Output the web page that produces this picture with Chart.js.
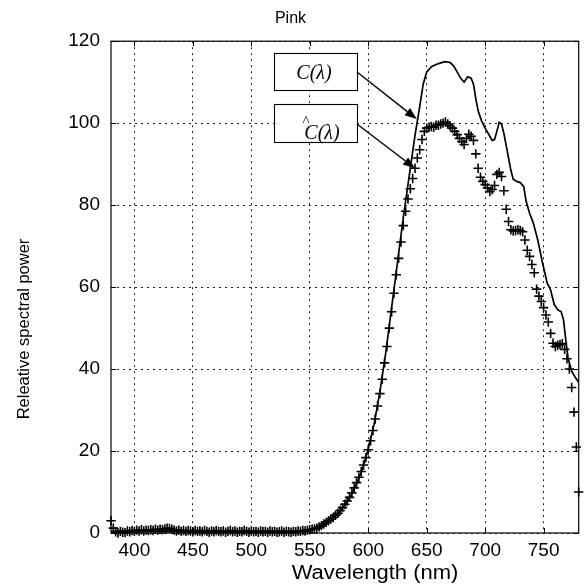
<!DOCTYPE html>
<html><head><meta charset="utf-8">
<script src="https://cdn.jsdelivr.net/npm/chart.js@4"></script>
<style>html,body{margin:0;padding:0;background:#fff}#wrap{width:585px;height:587px}</style>
</head><body><div id="wrap"><canvas id="c" width="585" height="587"></canvas></div>
<script>
const chartTitle = 'Pink';
const xAxisTitle = 'Wavelength (nm)';
const yAxisTitle = 'Releative spectral power';
const xTickValues = [400, 450, 500, 550, 600, 650, 700, 750];
const yTickValues = [0, 20, 40, 60, 80, 100, 120];
const legendLabels = ['C(\u03bb)', 'C(\u03bb)'];
const arrowTargets = [[641.5, 101], [640, 89]];

// measured spectrum C(lambda)
const waveC = [380,400,420,440,460,480,500,520,540,550,555,560,565,570,575,580,585,590,595,600,605,610,615,620,625,630,635,640,644,647,650,654,658,662,666,670,673,676,679,682,685,688,690,692,694,697,700,703,706,708,710,712,714,716,718,720,722,724,727,730,733,735,738,741,745,749,753,756,759,762,765,767,769,771,774,777,780];
const powerC = [0.4,0.4,0.5,0.4,0.3,0.3,0.3,0.3,0.4,0.6,1.0,1.8,2.7,3.8,5.0,6.8,9.0,12.0,15.5,20.5,26.5,34.5,44,55,66,77,87,97,104,109.5,112.5,113.8,114.3,114.7,115,114.8,114,112.5,111,110,111.3,111,109.5,106,103,100.5,98.8,97.3,95.8,96,98,100.2,99.8,97.5,94.5,91.5,88.5,86.3,85.8,85.5,84.5,81,78,75.8,71.5,66,61,59.3,55.8,54.5,54,52,47,42.5,39.5,38,36.8];

// estimated spectrum C^(lambda)
const waveHat = [380,382,384,386,388,390,392,394,396,398,400,402,404,406,408,410,412,414,416,418,420,422,424,426,428,430,432,434,436,438,440,442,444,446,448,450,452,454,456,458,460,462,464,466,468,470,472,474,476,478,480,482,484,486,488,490,492,494,496,498,500,502,504,506,508,510,512,514,516,518,520,522,524,526,528,530,532,534,536,538,540,542,544,546,548,550,552,554,556,558,560,562,564,566,568,570,572,574,576,578,580,582,584,586,588,590,592,594,596,598,600,602,604,606,608,610,612,614,616,618,620,622,624,626,628,630,632,634,636,638,640,642,644,646,648,650,652,654,656,658,660,662,664,666,668,670,672,674,676,678,680,682,684,686,688,690,692,694,696,698,700,702,704,706,708,710,712,714,716,718,720,722,724,726,728,730,732,734,736,738,740,742,744,746,748,750,752,754,756,758,760,762,764,766,768,770,772,774,776,778,780];
const powerHat = [3.0,1.2,0.3,0.0,0.4,0.2,0.1,0.5,0.3,0.6,0.4,0.7,0.5,0.8,0.5,0.7,0.6,0.8,0.6,0.9,0.7,0.9,0.8,1.0,1.2,1.1,0.9,0.7,0.5,0.7,0.4,0.6,0.4,0.6,0.5,0.3,0.6,0.4,0.5,0.3,0.6,0.4,0.2,0.5,0.3,0.6,0.4,0.3,0.5,0.2,0.4,0.6,0.3,0.5,0.2,0.4,0.3,0.6,0.4,0.2,0.5,0.3,0.4,0.2,0.5,0.3,0.4,0.2,0.5,0.3,0.4,0.2,0.3,0.5,0.2,0.4,0.3,0.2,0.4,0.3,0.5,0.4,0.6,0.5,0.7,0.8,0.9,1.0,1.2,1.5,1.8,2.2,2.6,3.0,3.4,3.8,4.3,4.8,5.5,6.2,7.0,7.8,8.7,9.8,11.0,12.3,13.6,15.0,16.6,18.4,20.3,22.5,25.0,27.8,31.0,34.0,37.5,41.5,45.5,50.0,54.0,58.5,63.0,67.0,71.0,75.0,78.5,81.5,84.0,86.5,89.0,91.5,93.5,96.0,98.0,98.8,99.0,99.2,99.0,99.5,99.5,99.8,100.0,100.3,99.8,99.3,98.8,98.0,97.2,96.3,95.5,94.8,96.3,97.3,96.8,95.8,92.5,89.0,86.8,85.8,85.0,84.2,83.3,83.8,84.8,87.5,88.0,87.0,83.5,79.0,76.0,74.0,73.7,73.8,74.0,73.8,73.5,71.5,69.0,67.5,65.5,63.5,59.5,57.8,56.5,55.0,53.2,51.5,48.7,46.3,45.5,45.8,46.0,46.2,44.8,42.5,40.0,35.5,29.5,21.0,10.0];

const decor = {
  id: 'decor',
  afterDraw(chart) {
    const {ctx, chartArea: {left, right, top, bottom}, scales: {x, y}} = chart;
    ctx.save();
    ctx.strokeStyle = '#000';
    ctx.fillStyle = '#000';
    ctx.lineWidth = 1.2;
    ctx.strokeRect(left, top, right - left, bottom - top);
    ctx.lineWidth = 1;
    ctx.beginPath();
    xTickValues.forEach(v => {
      const px = Math.round(x.getPixelForValue(v)) + 0.5;
      ctx.moveTo(px, bottom); ctx.lineTo(px, bottom - 5);
      ctx.moveTo(px, top); ctx.lineTo(px, top + 5);
    });
    yTickValues.forEach(v => {
      const py = Math.round(y.getPixelForValue(v)) + 0.5;
      ctx.moveTo(left, py); ctx.lineTo(left + 5, py);
      ctx.moveTo(right, py); ctx.lineTo(right - 5, py);
    });
    ctx.stroke();

    // annotation boxes
    const boxes = [[274, 53, 83, 37], [274, 104, 83, 38]];
    ctx.lineWidth = 1.1;
    boxes.forEach(b => { ctx.fillStyle = '#fff'; ctx.fillRect(b[0], b[1], b[2], b[3]); ctx.strokeRect(b[0] + 0.5, b[1] + 0.5, b[2], b[3]); });
    ctx.fillStyle = '#000';
    ctx.font = 'italic 20px "Liberation Serif", "Times New Roman", serif';
    ctx.textAlign = 'center';
    ctx.textBaseline = 'alphabetic';
    ctx.fillText(legendLabels[0], 314, 79);
    ctx.fillText(legendLabels[1], 322, 139);
    ctx.font = '15px "Liberation Serif", serif';
    ctx.fillText('^', 306, 126);

    // arrows
    const tails = [[357, 72], [357, 124]];
    arrowTargets.forEach((t, i) => {
      const tx = x.getPixelForValue(t[0]), ty = y.getPixelForValue(t[1]);
      const [sx, sy] = tails[i];
      const ang = Math.atan2(ty - sy, tx - sx);
      const hl = 12, hw = 4.5;
      const bx = tx - hl * Math.cos(ang), by = ty - hl * Math.sin(ang);
      ctx.lineWidth = 1.4;
      ctx.beginPath(); ctx.moveTo(sx, sy); ctx.lineTo(bx, by); ctx.stroke();
      ctx.beginPath();
      ctx.moveTo(tx, ty);
      ctx.lineTo(bx + hw * Math.sin(ang), by - hw * Math.cos(ang));
      ctx.lineTo(bx - hw * Math.sin(ang), by + hw * Math.cos(ang));
      ctx.closePath(); ctx.fill();
    });

    // axis titles
    ctx.font = '20px "Liberation Sans", Arial, sans-serif';
    ctx.textAlign = 'center';
    ctx.textBaseline = 'alphabetic';
    ctx.save();
    ctx.translate(375, 579);
    ctx.scale(1.1, 1);
    ctx.fillText(xAxisTitle, 0, 0);
    ctx.restore();
    ctx.save();
    ctx.font = '16.5px "Liberation Sans", Arial, sans-serif';
    ctx.translate(29, 329);
    ctx.rotate(-Math.PI / 2);
    ctx.fillText(yAxisTitle, 0, 0);
    ctx.restore();
    ctx.restore();
  }
};

const tickFont = {family: '"Liberation Sans", Arial, sans-serif', size: 19};

new Chart(document.getElementById('c'), {
  type: 'line',
  data: {
    datasets: [
      {
        label: 'C(\u03bb)',
        data: waveC.map((w, i) => ({x: w, y: powerC[i]})),
        borderColor: '#000',
        borderWidth: 1.7,
        pointRadius: 0,
        tension: 0,
        fill: false
      },
      {
        label: '\u0108(\u03bb)',
        data: waveHat.map((w, i) => ({x: w, y: powerHat[i]})),
        showLine: false,
        pointStyle: 'cross',
        pointRadius: 4.7,
        pointBorderWidth: 1.6,
        borderColor: '#000',
        backgroundColor: '#000',
        clip: false
      }
    ]
  },
  options: {
    responsive: false,
    animation: false,
    devicePixelRatio: 1,
    layout: {padding: {left: 0, right: 4, top: 0, bottom: 0}},
    plugins: {
      legend: {display: false},
      tooltip: {enabled: false},
      title: {
        display: true,
        text: chartTitle,
        color: '#000',
        font: {family: '"Liberation Sans", Arial, sans-serif', size: 16, weight: 'normal'},
        padding: {top: 9, bottom: 13}
      }
    },
    scales: {
      x: {
        type: 'linear',
        min: 380,
        max: 780,
        afterBuildTicks: s => { s.ticks = xTickValues.map(v => ({value: v})); },
        afterFit: s => { s.height = 54; },
        grid: {color: '#222', lineWidth: 1, drawTicks: false, borderDash: [2, 4]},
        border: {display: false, dash: [2, 4]},
        ticks: {color: '#000', font: tickFont, padding: 6, maxRotation: 0, autoSkip: false}
      },
      y: {
        type: 'linear',
        min: 0,
        max: 120,
        afterBuildTicks: s => { s.ticks = yTickValues.map(v => ({value: v})); },
        afterFit: s => { s.width = 111; },
        grid: {color: '#222', lineWidth: 1, drawTicks: false, borderDash: [2, 4]},
        border: {display: false, dash: [2, 4]},
        ticks: {color: '#000', font: tickFont, padding: 11}
      }
    }
  },
  plugins: [decor]
});
</script>
</body></html>
